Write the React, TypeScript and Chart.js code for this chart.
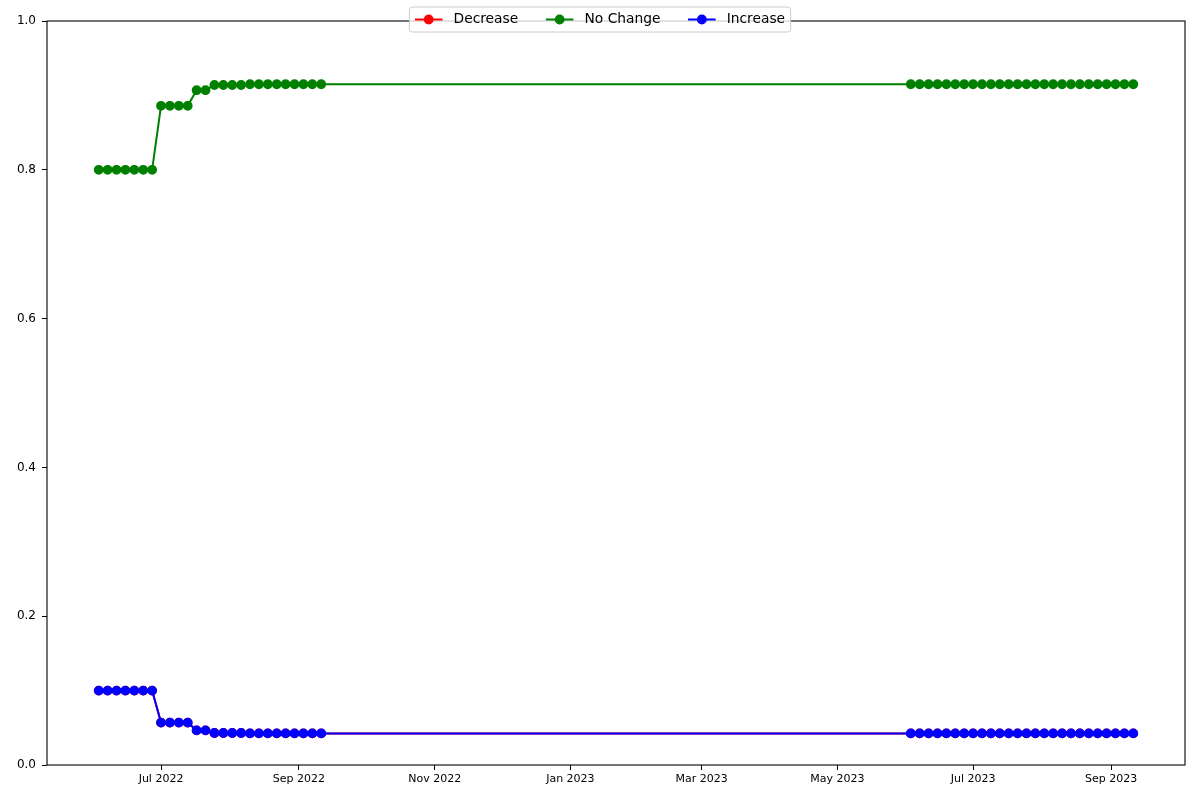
import React, { useEffect, useRef } from 'react';
import { Chart, registerables } from 'chart.js';

Chart.register(...registerables);

// Observation dates (every 4 days, two periods)
const dates: string[] = [
  '2022-06-03', '2022-06-07', '2022-06-11', '2022-06-15', '2022-06-19', '2022-06-23', '2022-06-27',
  '2022-07-01', '2022-07-05', '2022-07-09', '2022-07-13', '2022-07-17', '2022-07-21', '2022-07-25',
  '2022-07-29', '2022-08-02', '2022-08-06', '2022-08-10', '2022-08-14', '2022-08-18', '2022-08-22',
  '2022-08-26', '2022-08-30', '2022-09-03', '2022-09-07', '2022-09-11',
  '2023-06-03', '2023-06-07', '2023-06-11', '2023-06-15', '2023-06-19', '2023-06-23', '2023-06-27',
  '2023-07-01', '2023-07-05', '2023-07-09', '2023-07-13', '2023-07-17', '2023-07-21', '2023-07-25',
  '2023-07-29', '2023-08-02', '2023-08-06', '2023-08-10', '2023-08-14', '2023-08-18', '2023-08-22',
  '2023-08-26', '2023-08-30', '2023-09-03', '2023-09-07', '2023-09-11',
];

const decrease: number[] = [
  0.1, 0.1, 0.1, 0.1, 0.1, 0.1, 0.1,
  0.057, 0.057, 0.057, 0.057, 0.0465, 0.0465,
  0.043, 0.043, 0.043, 0.043,
  0.0425, 0.0425, 0.0425, 0.0425, 0.0425, 0.0425, 0.0425, 0.0425, 0.0425,
  0.0425, 0.0425, 0.0425, 0.0425, 0.0425, 0.0425, 0.0425, 0.0425, 0.0425, 0.0425, 0.0425, 0.0425, 0.0425,
  0.0425, 0.0425, 0.0425, 0.0425, 0.0425, 0.0425, 0.0425, 0.0425, 0.0425, 0.0425, 0.0425, 0.0425, 0.0425,
];

const noChange: number[] = [
  0.8, 0.8, 0.8, 0.8, 0.8, 0.8, 0.8,
  0.886, 0.886, 0.886, 0.886, 0.907, 0.907,
  0.914, 0.914, 0.914, 0.914,
  0.915, 0.915, 0.915, 0.915, 0.915, 0.915, 0.915, 0.915, 0.915,
  0.915, 0.915, 0.915, 0.915, 0.915, 0.915, 0.915, 0.915, 0.915, 0.915, 0.915, 0.915, 0.915,
  0.915, 0.915, 0.915, 0.915, 0.915, 0.915, 0.915, 0.915, 0.915, 0.915, 0.915, 0.915, 0.915,
];

const increase: number[] = [
  0.1, 0.1, 0.1, 0.1, 0.1, 0.1, 0.1,
  0.057, 0.057, 0.057, 0.057, 0.0465, 0.0465,
  0.043, 0.043, 0.043, 0.043,
  0.0425, 0.0425, 0.0425, 0.0425, 0.0425, 0.0425, 0.0425, 0.0425, 0.0425,
  0.0425, 0.0425, 0.0425, 0.0425, 0.0425, 0.0425, 0.0425, 0.0425, 0.0425, 0.0425, 0.0425, 0.0425, 0.0425,
  0.0425, 0.0425, 0.0425, 0.0425, 0.0425, 0.0425, 0.0425, 0.0425, 0.0425, 0.0425, 0.0425, 0.0425, 0.0425,
];

const tickDates: string[] = [
  '2022-07-01', '2022-09-01', '2022-11-01', '2023-01-01',
  '2023-03-01', '2023-05-01', '2023-07-01', '2023-09-01',
];
const tickLabels: string[] = [
  'Jul 2022', 'Sep 2022', 'Nov 2022', 'Jan 2023',
  'Mar 2023', 'May 2023', 'Jul 2023', 'Sep 2023',
];

const seriesNames = ['Decrease', 'No Change', 'Increase'];
const seriesColors = ['#ff0000', '#008000', '#0000ff'];

const toMs = (s: string) => Date.parse(s + 'T00:00:00Z');

const FONT = '"DejaVu Sans", sans-serif';

const framePlugin = {
  id: 'frameAndLegend',
  afterDraw(chart: any) {
    const { ctx, chartArea: a, canvas } = chart;
    ctx.save();
    // frame
    ctx.strokeStyle = '#000';
    ctx.lineWidth = 1.1;
    ctx.strokeRect(a.left, a.top, a.right - a.left, a.bottom - a.top);

    // legend
    const fs = 13.8;
    ctx.font = `${fs}px ${FONT}`;
    const pad = 0.4 * fs;
    const handleLen = 2.0 * fs;
    const textPad = 0.8 * fs;
    const colSpace = 2.0 * fs;
    const widths = seriesNames.map((n) => ctx.measureText(n).width);
    let total = pad * 2;
    widths.forEach((w, i) => {
      total += handleLen + textPad + w;
      if (i < widths.length - 1) total += colSpace;
    });
    const cx = canvas.width / 2;
    const left = cx - total / 2;
    const top = 7;
    const h = 25;
    const r = 3;
    ctx.beginPath();
    ctx.moveTo(left + r, top);
    ctx.lineTo(left + total - r, top);
    ctx.arcTo(left + total, top, left + total, top + r, r);
    ctx.lineTo(left + total, top + h - r);
    ctx.arcTo(left + total, top + h, left + total - r, top + h, r);
    ctx.lineTo(left + r, top + h);
    ctx.arcTo(left, top + h, left, top + h - r, r);
    ctx.lineTo(left, top + r);
    ctx.arcTo(left, top, left + r, top, r);
    ctx.closePath();
    ctx.fillStyle = 'rgba(255,255,255,0.8)';
    ctx.fill();
    ctx.strokeStyle = '#cccccc';
    ctx.lineWidth = 1;
    ctx.stroke();

    let x = left + pad;
    const y = top + h / 2;
    seriesNames.forEach((n, i) => {
      const c = seriesColors[i];
      ctx.strokeStyle = c;
      ctx.lineWidth = 2;
      ctx.beginPath();
      ctx.moveTo(x, y);
      ctx.lineTo(x + handleLen, y);
      ctx.stroke();
      ctx.beginPath();
      ctx.arc(x + handleLen / 2, y, 4.2, 0, Math.PI * 2);
      ctx.fillStyle = c;
      ctx.fill();
      ctx.lineWidth = 1.4;
      ctx.stroke();
      ctx.fillStyle = '#000';
      ctx.textBaseline = 'middle';
      ctx.textAlign = 'left';
      ctx.fillText(n, x + handleLen + textPad, y);
      x += handleLen + textPad + widths[i] + colSpace;
    });
    ctx.restore();
  },
};

export default function App() {
  const ref = useRef<HTMLCanvasElement | null>(null);

  useEffect(() => {
    if (!ref.current) return;
    const xs = dates.map(toMs);
    const xMinData = Math.min(...xs);
    const xMaxData = Math.max(...xs);
    const span = xMaxData - xMinData;
    const xMin = xMinData - span * 0.05;
    const xMax = xMaxData + span * 0.05;
    const tickVals = tickDates.map(toMs);

    const allSeries = [decrease, noChange, increase];
    const datasets = allSeries.map((vals, i) => ({
      label: seriesNames[i],
      data: vals.map((v, j) => ({ x: xs[j], y: v })),
      borderColor: seriesColors[i],
      backgroundColor: seriesColors[i],
      pointBackgroundColor: seriesColors[i],
      pointBorderColor: seriesColors[i],
      pointRadius: 4.2,
      pointBorderWidth: 1.4,
      borderWidth: 2,
      tension: 0,
      fill: false,
      order: 2 - i,
    }));

    const chart = new Chart(ref.current, {
      type: 'line',
      data: { datasets },
      options: {
        animation: false,
        responsive: false,
        devicePixelRatio: 1,
        layout: { padding: { top: 21, right: 15, left: 0, bottom: 0 } },
        plugins: {
          legend: { display: false },
          tooltip: { enabled: false },
        },
        scales: {
          x: {
            type: 'linear',
            min: xMin,
            max: xMax,
            afterBuildTicks: (axis: any) => {
              axis.ticks = tickVals.map((v) => ({ value: v }));
            },
            afterFit: (axis: any) => {
              axis.height = 35;
            },
            ticks: {
              autoSkip: false,
              maxRotation: 0,
              minRotation: 0,
              padding: 3,
              color: '#000',
              font: { family: FONT, size: 11 },
              callback: (_v: any, idx: number) => tickLabels[idx],
            },
            grid: {
              display: true,
              drawOnChartArea: false,
              drawTicks: true,
              tickLength: 5,
              color: '#000',
              lineWidth: 1,
            },
            border: { display: false },
          },
          y: {
            type: 'linear',
            min: 0,
            max: 1,
            afterFit: (axis: any) => {
              axis.width = 47;
            },
            ticks: {
              stepSize: 0.2,
              padding: 6,
              color: '#000',
              font: { family: FONT, size: 12 },
              callback: (v: any) => Number(v).toFixed(1),
            },
            grid: {
              display: true,
              drawOnChartArea: false,
              drawTicks: true,
              tickLength: 5,
              color: '#000',
              lineWidth: 1,
            },
            border: { display: false },
          },
        },
      },
      plugins: [framePlugin],
    });
    return () => chart.destroy();
  }, []);

  return (
    <canvas
      ref={ref}
      width={1200}
      height={800}
      style={{ display: 'block', position: 'absolute', left: 0, top: 0 }}
    />
  );
}
